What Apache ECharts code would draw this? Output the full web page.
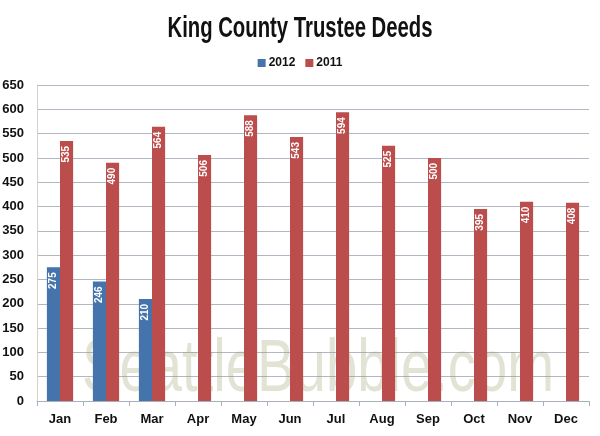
<!DOCTYPE html>
<html><head><meta charset="utf-8">
<script src="https://cdn.jsdelivr.net/npm/echarts@6/dist/echarts.min.js"></script>
<style>html,body{margin:0;padding:0;background:#fff}#c{width:600px;height:436px}</style>
</head><body><div id="c"></div>
<script>
const months = ['Jan','Feb','Mar','Apr','May','Jun','Jul','Aug','Sep','Oct','Nov','Dec'];
const s2012 = [275, 246, 210, null, null, null, null, null, null, null, null, null];
const s2011 = [535, 490, 564, 506, 588, 543, 594, 525, 500, 395, 410, 408];
const titleText = 'King County Trustee Deeds';
const watermarkText = 'SeattleBubble.com';
const FONT = '"Liberation Sans", Arial, sans-serif';
const chart = echarts.init(document.getElementById('c'));
const lbl = {show:true, position:'insideTop', rotate:90, align:'right', verticalAlign:'middle', distance:5, color:'#fff', fontSize:10, fontWeight:'bold', fontFamily:FONT};
chart.setOption({
  animation:false,
  legend:{top:52, left:'center', itemWidth:8, itemHeight:8, itemGap:10, icon:'rect', textStyle:{fontFamily:FONT, fontSize:12, fontWeight:'bold', color:'#111', padding:[0,0,0,-2]}, data:['2012','2011']},
  graphic:[
    {type:'text', x:300, y:29, scaleX:0.70, silent:true, style:{text:titleText, align:'center', verticalAlign:'middle', fontFamily:FONT, fontSize:29, fontWeight:'bold', fill:'#111'}},
    {type:'text', x:82, y:371, scaleX:0.76, z:1, silent:true, style:{text:watermarkText, align:'left', verticalAlign:'middle', fontFamily:FONT, fontSize:74, fill:'rgba(150,155,100,0.28)'}}
  ],
  grid:{left:37, right:11, top:85, bottom:35, containLabel:false, outerBoundsMode:'none'},
  xAxis:{type:'category', data:months, axisTick:{show:true, length:5, lineStyle:{color:'#a8b0bc'}}, axisLine:{lineStyle:{color:'#a8b0bc'}},
    axisLabel:{fontFamily:FONT, fontSize:13, fontWeight:'bold', color:'#111', margin:12}},
  yAxis:{type:'value', min:0, max:650, interval:50, axisLine:{show:true, lineStyle:{color:'#dccfc8'}},
    splitLine:{lineStyle:{color:'#b0b8c4'}}, axisLabel:{fontFamily:FONT, fontSize:13, fontWeight:'bold', color:'#111', margin:13}},
  series:[
    {name:'2012', type:'bar', z:5, data:s2012, barGap:'0%', barCategoryGap:'43%', itemStyle:{color:'#4573ab'}, label:lbl},
    {name:'2011', type:'bar', z:5, data:s2011, itemStyle:{color:'#bb4e4c'}, label:lbl}
  ]
});
</script></body></html>
